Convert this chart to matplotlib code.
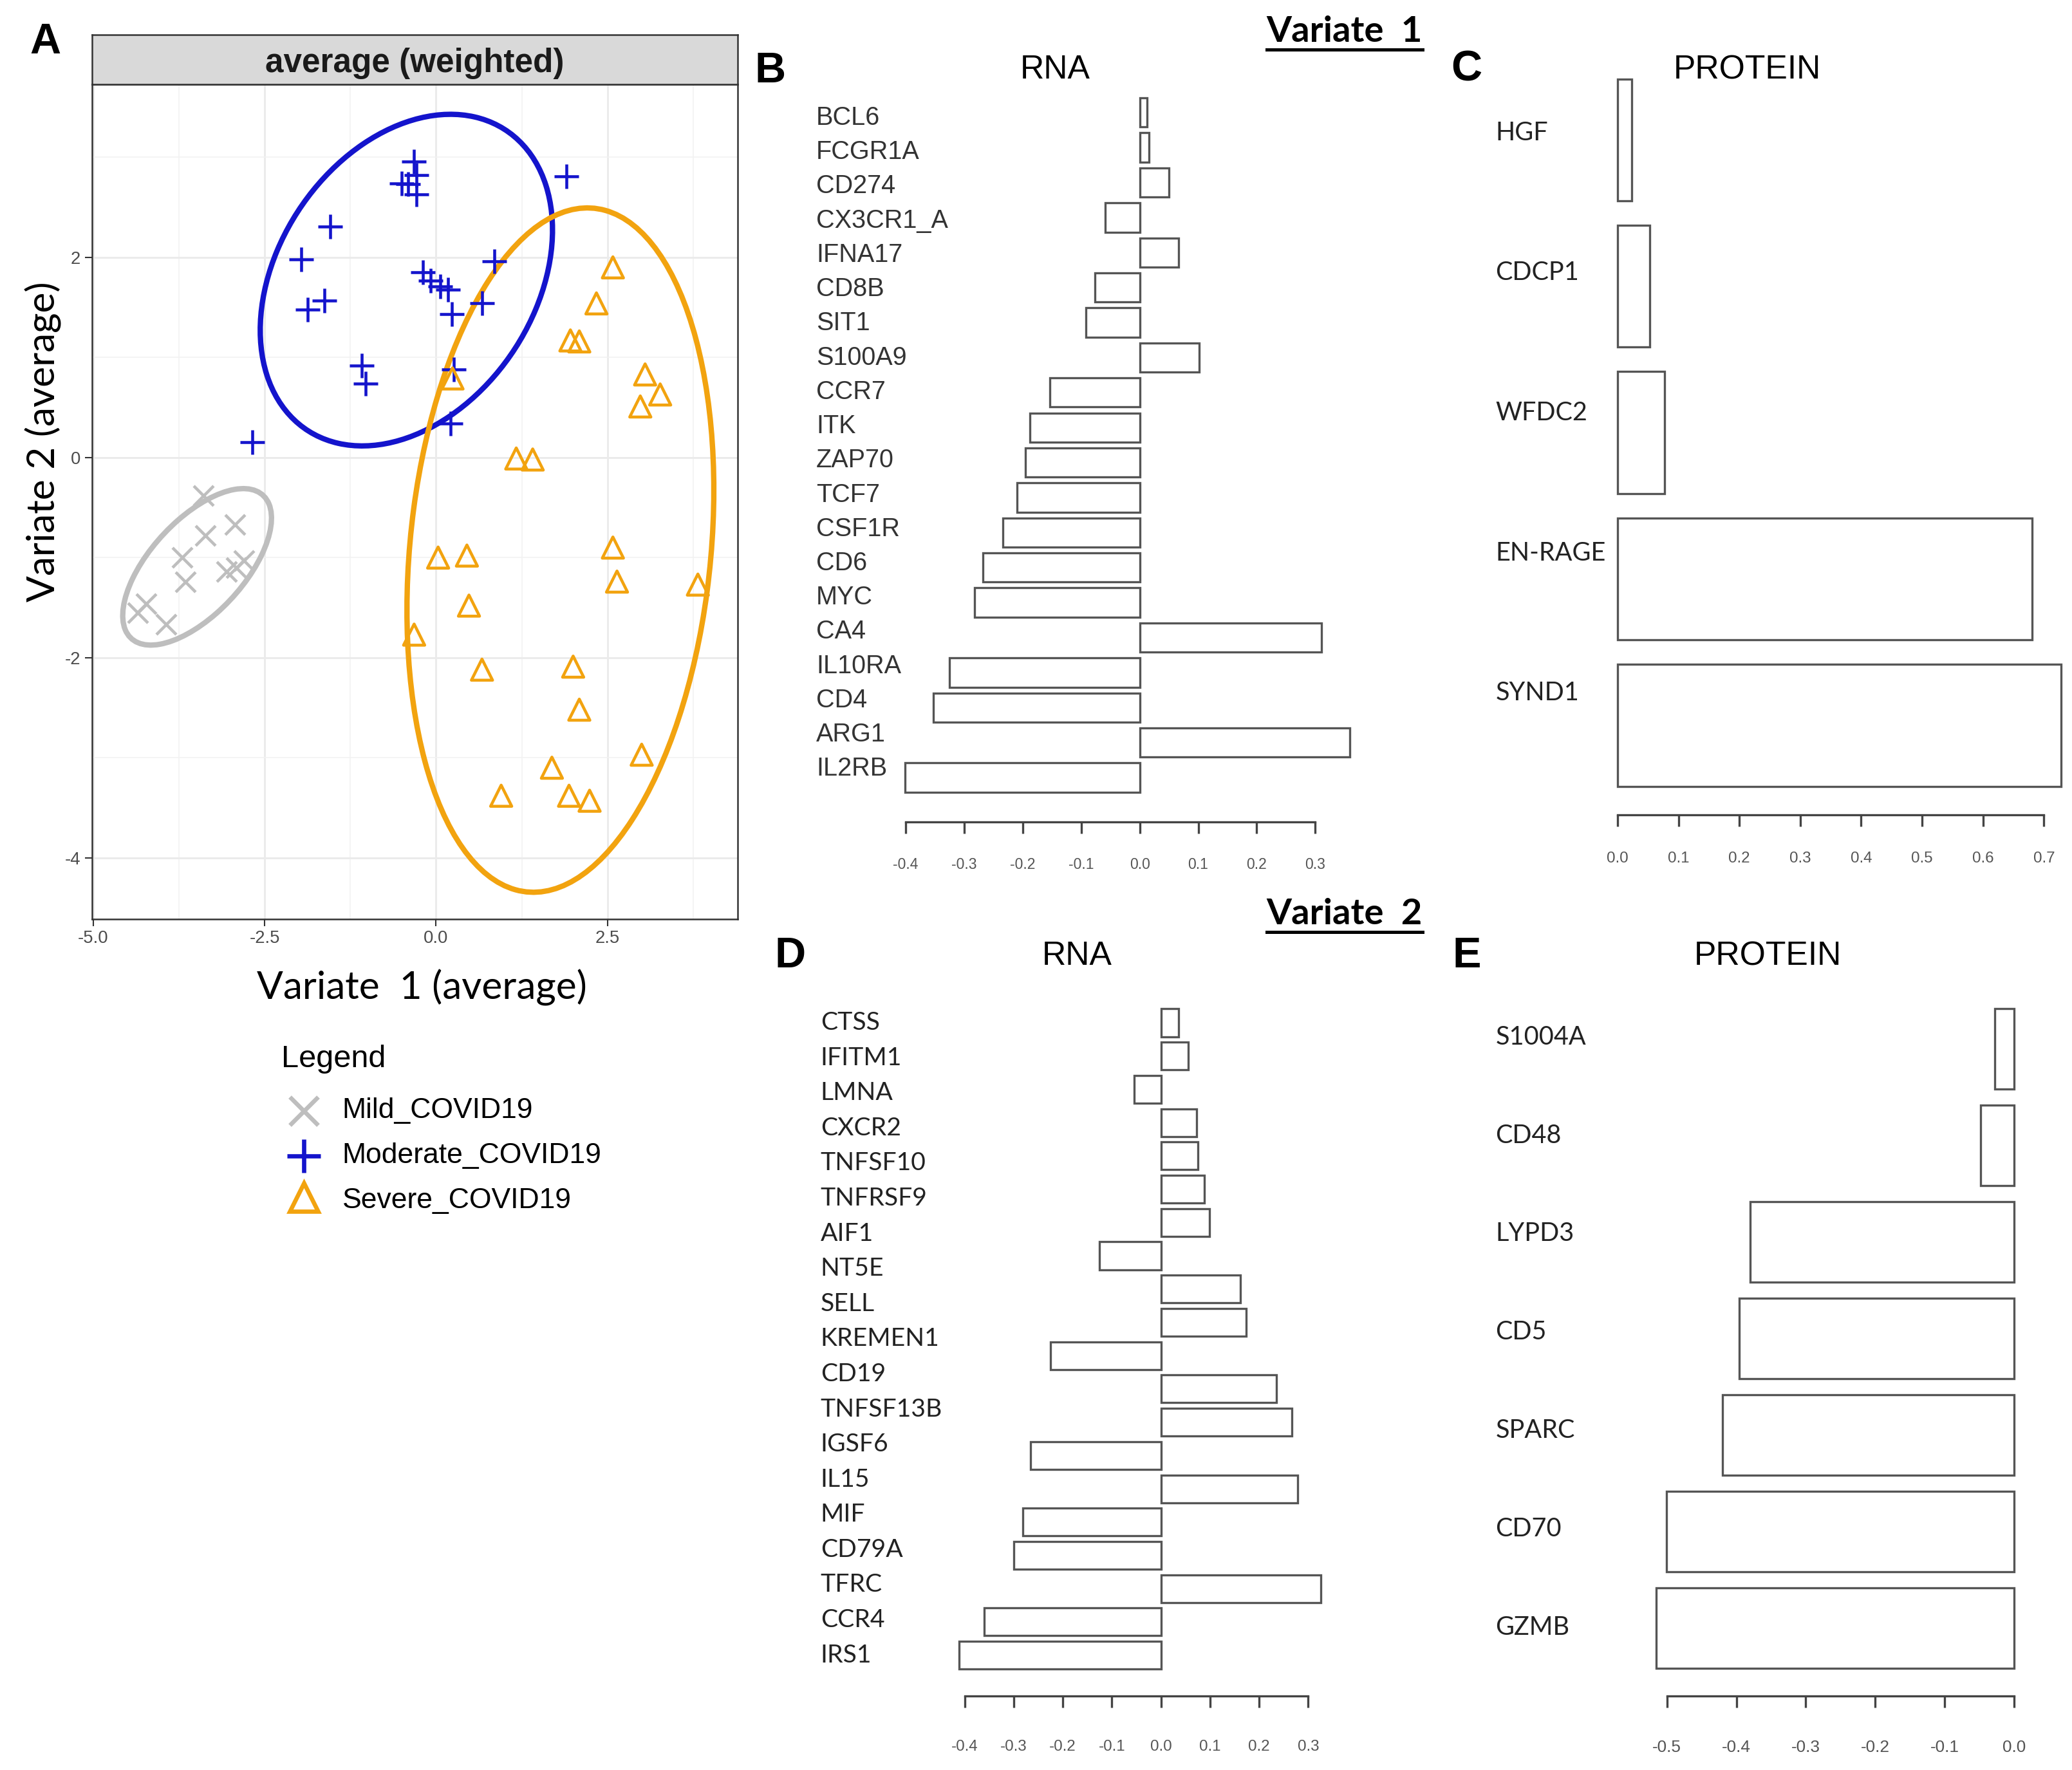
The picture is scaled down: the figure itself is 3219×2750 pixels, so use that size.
import numpy as np
import matplotlib
matplotlib.use("Agg")
import matplotlib.pyplot as plt
import matplotlib.transforms as mtransforms
from matplotlib.patches import Ellipse
from matplotlib.lines import Line2D

plt.rcParams['font.family'] = ['Liberation Sans', 'DejaVu Sans']
plt.rcParams['axes.unicode_minus'] = False

# ---- panel A: sample scores on the averaged variates ----
mild_v1 = [-3.39, -2.93, -3.37, -3.70, -2.80, -3.06, -3.66, -4.23, -4.35, -3.94, -2.92]
mild_v2 = [-0.38, -0.67, -0.78, -1.00, -1.03, -1.14, -1.24, -1.46, -1.55, -1.67, -1.10]
moderate_v1 = [-0.32, -0.29, -0.50, -0.41, -0.29, 1.90, -1.54, -1.97, -1.87, -1.63, -0.19,
               -0.08, 0.06, 0.17, 0.23, 0.85, 0.67, -1.08, -1.03, 0.26, 0.21, -2.68]
moderate_v2 = [2.96, 2.82, 2.74, 2.73, 2.63, 2.81, 2.31, 1.98, 1.48, 1.57, 1.85,
               1.77, 1.71, 1.68, 1.43, 1.96, 1.54, 0.92, 0.74, 0.88, 0.34, 0.15]
severe_v1 = [2.58, 2.34, 1.96, 2.09, 3.05, 3.27, 2.98, 0.24, 1.17, 1.41, 0.03, 0.45, 2.58,
             2.64, 3.82, 0.48, -0.32, 0.67, 2.00, 2.09, 3.00, 1.69, 0.95, 1.94, 2.24]
severe_v2 = [1.90, 1.54, 1.17, 1.16, 0.83, 0.63, 0.51, 0.79, -0.01, -0.02, -1.00, -0.98, -0.90,
             -1.24, -1.27, -1.48, -1.77, -2.12, -2.09, -2.52, -2.97, -3.10, -3.38, -3.38, -3.43]
group_names = ['Mild_COVID19', 'Moderate_COVID19', 'Severe_COVID19']
group_colors = ['#BEBEBE', '#1414CC', '#F2A30F']
group_markers = ['x', '+', '^']
ellipse_level = 0.87

# ---- panels B-E: loadings ----
rna1_genes = ['BCL6', 'FCGR1A', 'CD274', 'CX3CR1_A', 'IFNA17', 'CD8B', 'SIT1', 'S100A9', 'CCR7', 'ITK',
              'ZAP70', 'TCF7', 'CSF1R', 'CD6', 'MYC', 'CA4', 'IL10RA', 'CD4', 'ARG1', 'IL2RB']
rna1_load = [0.013, 0.016, 0.050, -0.059, 0.066, -0.077, -0.092, 0.102, -0.153, -0.188,
             -0.195, -0.210, -0.234, -0.268, -0.282, 0.311, -0.325, -0.353, 0.359, -0.401]
prot1_names = ['HGF', 'CDCP1', 'WFDC2', 'EN-RAGE', 'SYND1']
prot1_load = [0.023, 0.053, 0.077, 0.681, 0.728]
rna2_genes = ['CTSS', 'IFITM1', 'LMNA', 'CXCR2', 'TNFSF10', 'TNFRSF9', 'AIF1', 'NT5E', 'SELL', 'KREMEN1',
              'CD19', 'TNFSF13B', 'IGSF6', 'IL15', 'MIF', 'CD79A', 'TFRC', 'CCR4', 'IRS1']
rna2_load = [0.036, 0.056, -0.055, 0.073, 0.075, 0.089, 0.099, -0.125, 0.162, 0.174,
             -0.225, 0.235, 0.267, -0.266, 0.279, -0.282, -0.300, 0.326, -0.360, -0.412]
prot2_names = ['S1004A', 'CD48', 'LYPD3', 'CD5', 'SPARC', 'CD70', 'GZMB']
prot2_load = [-0.028, -0.048, -0.380, -0.396, -0.420, -0.501, -0.516]

fig = plt.figure(figsize=(3219 / 300, 2750 / 300), dpi=300)


def conf_ellipse(x, y, level, color):
    x = np.asarray(x); y = np.asarray(y)
    cov = np.cov(x, y)
    vals, vecs = np.linalg.eigh(cov)
    order = vals.argsort()[::-1]
    vals, vecs = vals[order], vecs[:, order]
    t = np.sqrt(-2 * np.log(1 - level))
    angle = np.degrees(np.arctan2(vecs[1, 0], vecs[0, 0]))
    return Ellipse((x.mean(), y.mean()), 2 * t * np.sqrt(vals[0]), 2 * t * np.sqrt(vals[1]),
                   angle=angle, fill=False, edgecolor=color, linewidth=2.0, zorder=3)


# ---- A ----
axA = fig.add_axes([0.0444, 0.4809, 0.3116, 0.4715])
xs = [mild_v1, moderate_v1, severe_v1]
ys = [mild_v2, moderate_v2, severe_v2]
for gx, gy, col, mk in zip(xs, ys, group_colors, group_markers):
    if mk == '^':
        axA.scatter(gx, gy, s=62, marker=mk, facecolors='none', edgecolors=col, linewidths=1.1, zorder=4)
    else:
        axA.scatter(gx, gy, s=80 if mk == '+' else 55, marker=mk, color=col, linewidths=1.1, zorder=4)
    axA.add_patch(conf_ellipse(gx, gy, ellipse_level, col))
axA.set_xlim(-5.02, 4.40)
axA.set_ylim(-4.61, 3.73)
axA.set_xticks([-5.0, -2.5, 0.0, 2.5])
axA.set_xticklabels(['-5.0', '-2.5', '0.0', '2.5'])
axA.set_xticks([-3.75, -1.25, 1.25, 3.75], minor=True)
axA.set_yticks([-4, -2, 0, 2])
axA.set_yticks([-3, -1, 1, 3], minor=True)
axA.grid(which='major', color='#EBEBEB', linewidth=0.7)
axA.grid(which='minor', color='#F2F2F2', linewidth=0.4)
axA.set_axisbelow(True)
for s in axA.spines.values():
    s.set_color('#333333'); s.set_linewidth(0.6)
axA.tick_params(which='major', length=2.75, width=0.5, color='#333333', labelsize=6.6,
                labelcolor='#4D4D4D', pad=1.5)
axA.tick_params(which='minor', length=0)
axA.set_xlabel('Variate  1 (average)', family='Lato', fontsize=14.5)
axA.xaxis.set_label_coords(0.511, -0.06)
axA.set_ylabel('Variate 2 (average)', family='Lato', fontsize=14.5)
axA.yaxis.set_label_coords(-0.047, 0.572)

strip = fig.add_axes([0.0444, 0.9524, 0.3116, 0.0278])
strip.set_facecolor('#D9D9D9')
strip.set_xticks([]); strip.set_yticks([])
for s in strip.spines.values():
    s.set_color('#333333'); s.set_linewidth(0.6)
strip.text(0.5, 0.42, 'average (weighted)', ha='center', va='center', fontsize=12.3,
           fontweight='bold', color='#1A1A1A', transform=strip.transAxes)

# legend drawn by hand below panel A
fig.text(0.1358, 1 - 802 / 1340, 'Legend', ha='left', va='center', fontsize=11.7)
for i, (name, col, mk) in enumerate(zip(group_names, group_colors, group_markers)):
    fy = 1 - (841 + 34 * i) / 1340
    if mk == '^':
        h = Line2D([0.1467], [fy + 0.002], linestyle='none', marker=mk, markersize=10.5,
                   markerfacecolor='none', markeredgecolor=col, markeredgewidth=1.6,
                   transform=fig.transFigure)
    else:
        h = Line2D([0.1467], [fy], linestyle='none', marker=mk, markersize=10.5 if mk == 'x' else 12.5,
                   color=col, markeredgewidth=1.6, transform=fig.transFigure)
    fig.add_artist(h)
    fig.text(0.1652, fy, name, ha='left', va='center', fontsize=10.7)


# ---- bar panels ----
def bar_panel(rect, values, names, label_pos, label_x, xlim, ylim, ticks, label_family,
              label_size, label_color, tick_size, tick_pad):
    ax = fig.add_axes(rect)
    pos = np.arange(len(values))
    ax.barh(pos, values, height=0.833, color='white', edgecolor='#555555', linewidth=0.8)
    ax.set_xlim(xlim); ax.set_ylim(ylim)
    for s in ['top', 'right', 'left']:
        ax.spines[s].set_visible(False)
    ax.spines['bottom'].set_bounds(ticks[0], ticks[-1])
    ax.spines['bottom'].set_color('#444444'); ax.spines['bottom'].set_linewidth(0.8)
    ax.set_xticks(ticks)
    ax.set_xticklabels(['%.1f' % t for t in ticks])
    ax.set_yticks([])
    ax.tick_params(axis='x', direction='out', length=4.3, width=0.8, color='#444444',
                   labelsize=tick_size, labelcolor='#555555', pad=tick_pad)
    ax.patch.set_alpha(0)
    trans = mtransforms.blended_transform_factory(fig.transFigure, ax.transData)
    for name, y in zip(names, label_pos):
        ax.text(label_x, y, name, transform=trans, ha='left', va='center', family=label_family,
                fontsize=label_size, color=label_color)
    return ax


bar_panel([0.4314, 0.5358, 0.2260, 0.4120], rna1_load, rna1_genes, np.linspace(0.15, 18.75, 20),
          0.3939, (-0.42, 0.38), (20.26, -0.574), [-0.4, -0.3, -0.2, -0.1, 0.0, 0.1, 0.2, 0.3],
          ['Liberation Sans'], 9.5, '#333333', 5.5, 9)
bar_panel([0.7777, 0.5398, 0.2205, 0.4266], prot1_load, prot1_names, np.linspace(-0.05, 3.78, 5),
          0.7218, (-0.01, 0.74), (4.61, -0.55), [0.0, 0.1, 0.2, 0.3, 0.4, 0.5, 0.6, 0.7],
          ['Lato'], 9.5, '#222222', 5.8, 9.5)
bar_panel([0.4561, 0.0419, 0.1871, 0.3947], rna2_load, rna2_genes, np.linspace(0.0, 19.0, 19),
          0.3960, (-0.44, 0.35), (20.22, -0.766), [-0.4, -0.3, -0.2, -0.1, 0.0, 0.1, 0.2, 0.3],
          ['Lato'], 9.4, '#222222', 5.8, 12)
bar_panel([0.7928, 0.0419, 0.1826, 0.3984], prot2_load, prot2_names, np.linspace(-0.12, 5.99, 7),
          0.7218, (-0.535, 0.01), (6.70, -0.60), [-0.5, -0.4, -0.3, -0.2, -0.1, 0.0],
          ['Lato'], 9.5, '#222222', 6.3, 12)

# ---- titles and panel letters ----
for letter, x, y in [('A', 0.022, 0.976), ('B', 0.3718, 0.9597), ('C', 0.7079, 0.9604),
                     ('D', 0.3814, 0.4597), ('E', 0.7079, 0.4597)]:
    fig.text(x, y, letter, ha='center', va='center', fontsize=16, fontweight='bold')
for title, x, y in [('RNA', 0.5092, 0.9604), ('PROTEIN', 0.8431, 0.9604),
                    ('RNA', 0.5198, 0.4597), ('PROTEIN', 0.8533, 0.4597)]:
    fig.text(x, y, title, ha='center', va='center', fontsize=12.4)

fig.canvas.draw()
renderer = fig.canvas.get_renderer()
for label, y in [('Variate  1', 0.9821), ('Variate  2', 0.4836)]:
    t = fig.text(0.6489, y, label, ha='center', va='center', family='Lato', fontsize=13.5,
                 fontweight='bold')
    bb = t.get_window_extent(renderer).transformed(fig.transFigure.inverted())
    fig.add_artist(Line2D([bb.x0, bb.x1], [bb.y0 - 0.001, bb.y0 - 0.001], color='black',
                          linewidth=1.2, transform=fig.transFigure))

fig.savefig('out.png', dpi=300, facecolor='white')
